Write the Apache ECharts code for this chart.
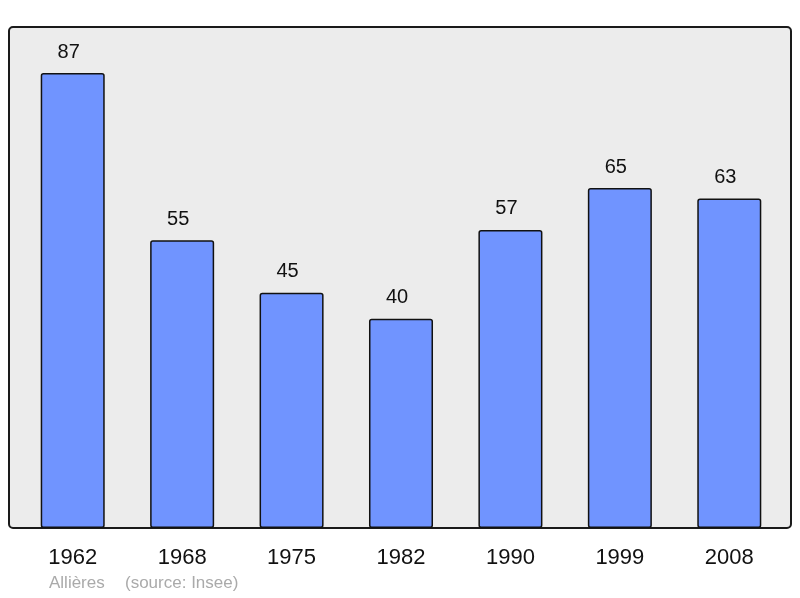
<!DOCTYPE html>
<html>
<head>
<meta charset="utf-8">
<script src="https://cdn.jsdelivr.net/npm/echarts@6/dist/echarts.min.js"></script>
<style>
  html, body { margin: 0; padding: 0; background: #fff; }
  #chart { width: 800px; height: 598px; }
</style>
</head>
<body>
<div id="chart"></div>
<script>
var years = ['1962', '1968', '1975', '1982', '1990', '1999', '2008'];
var population = [87, 55, 45, 40, 57, 65, 63];

var chart = echarts.init(document.getElementById('chart'));

var option = {
    animation: false,
    textStyle: { fontFamily: 'Liberation Sans, Arial, sans-serif' },
    grid: { left: 18, right: 16, top: 27, bottom: 70 },
    graphic: [
        {
            type: 'rect',
            z: 0,
            silent: true,
            shape: { x: 9, y: 27, width: 782, height: 501, r: 4 },
            style: { fill: '#ececec', stroke: '#1a1a1a', lineWidth: 2 }
        },
        {
            type: 'text',
            left: 49,
            top: 575,
            style: { text: 'Allières', fill: '#aaaaaa', font: '17px "Liberation Sans", Arial, sans-serif' }
        },
        {
            type: 'text',
            left: 125,
            top: 575,
            style: { text: '(source: Insee)', fill: '#aaaaaa', font: '17px "Liberation Sans", Arial, sans-serif' }
        }
    ],
    xAxis: {
        type: 'category',
        data: years,
        axisLine: { show: false },
        axisTick: { show: false },
        axisLabel: { color: '#111', fontSize: 22, margin: 19 }
    },
    yAxis: {
        type: 'value',
        min: 0,
        max: 95.8,
        show: false
    },
    series: [
        {
            type: 'bar',
            data: population,
            barWidth: '58.5%',
            z: 2,
            itemStyle: {
                color: '#7094ff',
                borderColor: '#111',
                borderWidth: 1.5,
                borderRadius: 2
            },
            label: {
                show: true,
                position: 'top',
                distance: 11,
                offset: [-4, 0],
                color: '#111',
                fontSize: 20
            }
        }
    ]
};

chart.setOption(option);
</script>
</body>
</html>
